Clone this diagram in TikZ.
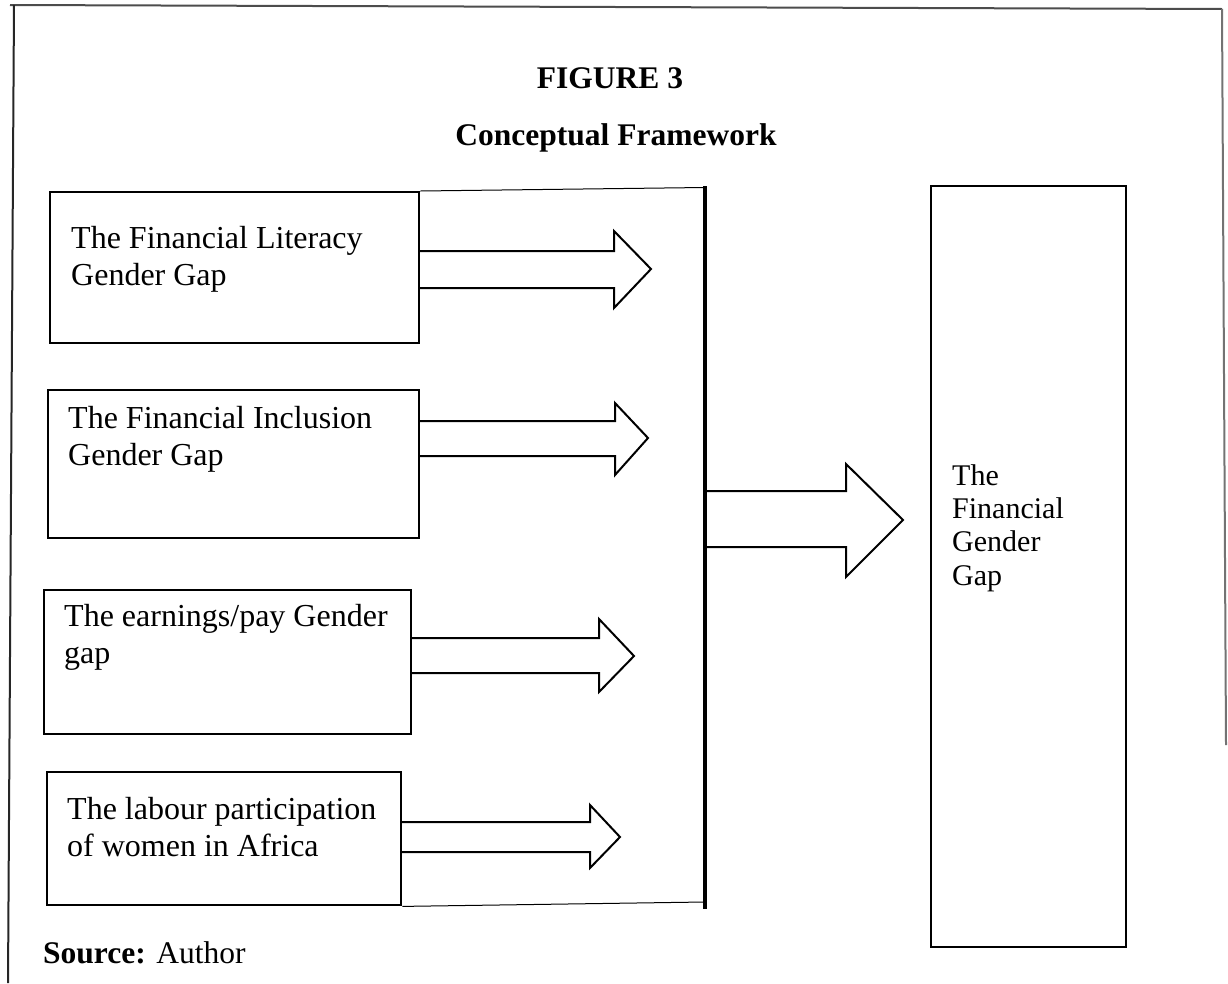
\documentclass[tikz,border=0pt]{standalone}
\usepackage{fontspec}
\setmainfont{Liberation Serif}
\begin{document}
\begin{tikzpicture}[x=1pt,y=-1pt,
  boxnode/.style={draw, line width=2.4pt, rectangle, inner sep=0pt, anchor=north west},
  boxtext/.style={anchor=base west, align=left, inner sep=0pt, font=\fontsize{32}{37}\selectfont},
  blockarrow/.style={draw, line width=2pt, line join=miter},
  frameline/.style={draw=black!70, line width=2pt},
  titletext/.style={anchor=base, inner sep=0pt, font=\bfseries\fontsize{31.5}{37}\selectfont}]
\useasboundingbox (0,0) rectangle (1228,983);

% outer frame
\coordinate (ftl) at (10,5);
\coordinate (ftr) at (1222,9);
\coordinate (flt) at (14,5);
\coordinate (flb) at (8,983);
\coordinate (frb) at (1226,745);
\draw[frameline] (ftl) -- (ftr);
\draw[frameline, draw=black!85] (flt) -- (flb);
\draw[frameline, draw=black!55] (ftr) -- (frb);

% titles
\node[titletext] (fig) at (610,88) {FIGURE 3};
\node[titletext] (ctitle) at (616,145) {Conceptual Framework};

% boxes
\node[boxnode, minimum width=369pt, minimum height=151pt] (b1) at (49,191) {};
\node[boxnode, minimum width=371pt, minimum height=148pt] (b2) at (47,389) {};
\node[boxnode, minimum width=367pt, minimum height=144pt] (b3) at (43,589) {};
\node[boxnode, minimum width=354pt, minimum height=133pt] (b4) at (46,771) {};
\node[boxnode, minimum width=195pt, minimum height=761.5pt] (rb) at (930,184.5) {};

% box texts (base anchor = baseline of the last line)
\node[boxtext] (t1) at (71,285) {The Financial Literacy\\Gender Gap};
\node[boxtext] (t2) at (68,465) {The Financial Inclusion\\Gender Gap};
\node[boxtext] (t3) at (64,663) {The earnings/pay Gender\\gap};
\node[boxtext] (t4) at (67,856) {The labour participation\\of women in Africa};
\node[boxtext, font=\fontsize{30}{33.3}\selectfont] (t5) at (952,585) {The\\Financial\\Gender\\Gap};

% bracket
\coordinate (vt) at (704.5,186);
\coordinate (vb) at (704.5,909);
\coordinate (bt) at (704.5,187.5);
\coordinate (bb) at (704.5,902);
\draw[line width=1pt] (b1.north east) -- (bt);
\draw[line width=1pt] (b4.south east) -- (bb);
\draw[line width=4pt] (vt) -- (vb);

% small block arrows
\draw[blockarrow] (418,251) -- (614,251) -- (614,231) -- (651,269) -- (614,308) -- (614,288) -- (418,288);
\draw[blockarrow] (418,421) -- (615,421) -- (615,403) -- (648,438) -- (615,475) -- (615,456) -- (418,456);
\draw[blockarrow] (410,638) -- (599,638) -- (599,619) -- (634,656) -- (599,692) -- (599,673) -- (410,673);
\draw[blockarrow] (400,822) -- (590,822) -- (590,805) -- (620,837) -- (590,868) -- (590,852) -- (400,852);

% big block arrow
\draw[blockarrow] (704.5,491) -- (846,491) -- (846,464) -- (903,520) -- (846,577) -- (846,547) -- (704.5,547);

% source
\node[anchor=base west, inner sep=0pt, font=\fontsize{31.5}{37}\selectfont] (src) at (43,963) {\textbf{Source:} Author};
\end{tikzpicture}
\end{document}
